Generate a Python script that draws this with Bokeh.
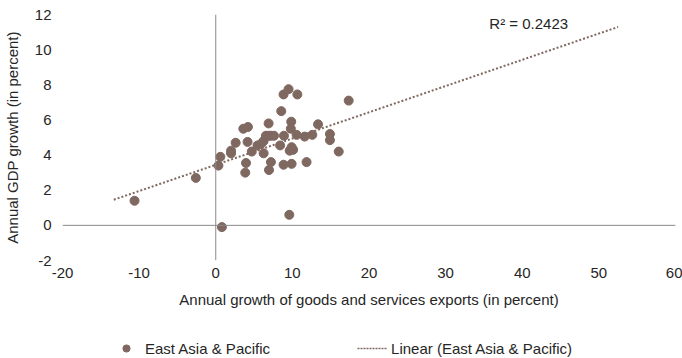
from bokeh.plotting import figure
from bokeh.layouts import column
from bokeh.models import (ColumnDataSource, Span, Label, Legend, LegendItem,
                          FixedTicker, Range1d)
from bokeh.embed import file_html
from bokeh.resources import INLINE

# ---- data ----
exports_growth = [-10.6, -2.6, 0.35, 0.6, 0.8, 2.0, 2.0, 2.6, 3.6, 4.2, 4.15, 3.95,
                  3.85, 4.7, 5.45, 5.95, 6.25, 6.25, 6.9, 6.55, 6.9, 7.2, 7.6, 7.2,
                  6.95, 8.55, 8.85, 9.5, 10.65, 8.4, 8.9, 8.85, 9.85, 9.8, 9.65, 9.9,
                  10.1, 9.9, 9.6, 10.55, 11.6, 12.6, 13.35, 11.85, 14.9, 14.9, 16.05,
                  17.35]
gdp_growth = [1.4, 2.7, 3.4, 3.9, -0.1, 4.25, 4.1, 4.7, 5.5, 5.6, 4.75, 3.55,
              3.0, 4.2, 4.55, 4.65, 4.8, 4.1, 5.8, 5.1, 5.1, 5.1, 5.1, 3.6,
              3.15, 6.5, 7.45, 7.75, 7.45, 4.55, 5.1, 3.45, 5.9, 5.5, 4.25, 4.45,
              4.3, 3.5, 0.6, 5.15, 5.05, 5.15, 5.75, 3.6, 5.2, 4.85, 4.2,
              7.1]
trend_x = [-13.3, 52.5]
trend_y = [1.46, 11.29]
r2_text = "R\u00b2 = 0.2423"
x_ticks = [-20, -10, 0, 10, 20, 30, 40, 50, 60]
y_ticks = [-2, 0, 2, 4, 6, 8, 10, 12]
series_name = "East Asia & Pacific"
trend_name = "Linear (East Asia & Pacific)"
x_title = "Annual growth of goods and services exports (in percent)"
y_title = "Annual GDP growth (in percent)"

FONT = "Liberation Sans"
TXT = "#262626"
PT = "#7f6860"
FS = "15px"

p = figure(width=682, height=310, output_backend="svg", toolbar_location=None,
           x_range=Range1d(-20, 60), y_range=Range1d(-2, 12),
           min_border_left=59, min_border_right=7, min_border_top=14,
           min_border_bottom=50)
p.outline_line_color = None
p.xgrid.visible = False
p.ygrid.visible = False

for ax in (p.xaxis[0], p.yaxis[0]):
    ax.axis_line_color = None
    ax.major_tick_line_color = None
    ax.minor_tick_line_color = None
    ax.major_tick_out = 0
    ax.major_tick_in = 0
    ax.minor_tick_out = 0
    ax.minor_tick_in = 0
    ax.major_label_text_font = FONT
    ax.major_label_text_font_size = FS
    ax.major_label_text_color = TXT
    ax.axis_label_text_font = FONT
    ax.axis_label_text_font_size = FS
    ax.axis_label_text_font_style = "normal"
    ax.axis_label_text_color = TXT

p.xaxis.ticker = FixedTicker(ticks=x_ticks)
p.yaxis.ticker = FixedTicker(ticks=y_ticks)
p.xaxis.major_label_overrides = {t: str(t) for t in x_ticks}
p.yaxis.major_label_overrides = {t: str(t) for t in y_ticks}
p.xaxis.axis_label = x_title
p.yaxis.axis_label = y_title
p.xaxis.major_label_standoff = 7
p.xaxis.axis_label_standoff = 10
p.yaxis.major_label_standoff = 11
p.yaxis.axis_label_standoff = 11

p.add_layout(Span(location=0, dimension="height", line_color="#8a8a8a", line_width=1))
p.add_layout(Span(location=0, dimension="width", line_color="#8a8a8a", line_width=1))

src = ColumnDataSource(dict(x=exports_growth, y=gdp_growth))
p.scatter("x", "y", source=src, size=9, fill_color=PT, line_color=PT)
p.line(trend_x, trend_y, line_color=PT, line_width=2, line_dash="2 2")

p.add_layout(Label(x=35.7, y=11.5, text=r2_text, text_font=FONT,
                   text_font_size=FS, text_color=TXT, text_baseline="middle"))

# ---- legend strip below the chart (swatch renderers are hidden) ----
lf = figure(width=682, height=48, output_backend="svg", toolbar_location=None,
            x_range=Range1d(0, 1), y_range=Range1d(0, 1),
            x_axis_location=None, y_axis_location=None,
            min_border_left=0, min_border_right=0, min_border_top=0,
            min_border_bottom=0)
lf.outline_line_color = None
lf.xgrid.visible = False
lf.ygrid.visible = False
lg_pts = lf.scatter(x=[0], y=[0], size=9, fill_color=PT, line_color=PT, visible=False)
lg_line = lf.line(x=[0, 0], y=[0, 0], line_color=PT, line_width=1.5,
                  line_dash="2 1", visible=False)

legend = Legend(items=[LegendItem(label=series_name, renderers=[lg_pts]),
                       LegendItem(label=trend_name, renderers=[lg_line])],
                orientation="horizontal", location=(49, 1),
                glyph_width=30, glyph_height=18, label_standoff=4, spacing=87,
                padding=0, margin=0, border_line_color=None,
                background_fill_alpha=0, inactive_fill_alpha=0,
                label_text_font=FONT,
                label_text_font_size=FS, label_text_color=TXT, label_height=18)
lf.add_layout(legend, "center")

layout = column(p, lf, spacing=0)
open("out.html", "w").write(file_html(layout, INLINE))
